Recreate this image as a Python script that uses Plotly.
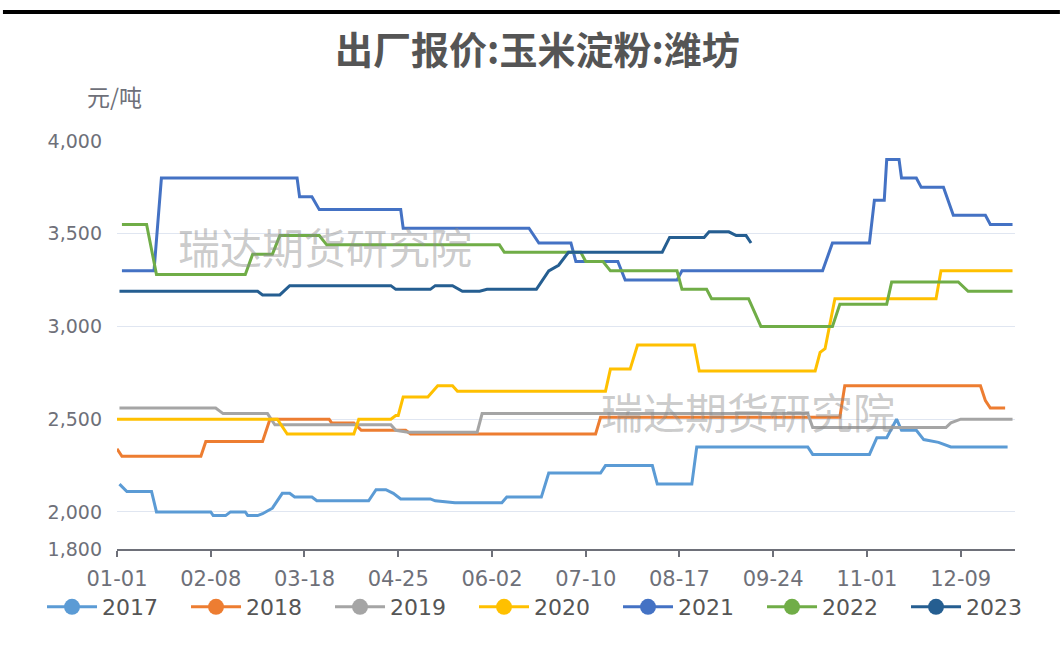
import plotly.graph_objects as go
import pandas as pd

# ---- axis categories (non-leap calendar, MM-DD) ----
all_days = pd.date_range("2017-01-01", "2017-12-31").strftime("%m-%d").tolist()
tick_labels = ["01-01", "02-08", "03-18", "04-25", "06-02", "07-10",
               "08-17", "09-24", "11-01", "12-09"]
y_ticks = [1800, 2000, 2500, 3000, 3500, 4000]

years = ["2017", "2018", "2019", "2020", "2021", "2022", "2023"]
colors = ["#5B9BD5", "#ED7D31", "#A5A5A5", "#FFC000", "#4472C4", "#70AD47", "#255E91"]

# ---- series data (date, price 元/吨) ----
d2017 = ["01-02", "01-05", "01-15", "01-17", "02-08", "02-09", "02-14", "02-16", "02-22", "02-23",
         "02-27", "03-01", "03-05", "03-09", "03-12", "03-14", "03-21", "03-23", "04-13", "04-16",
         "04-20", "04-23", "04-26", "05-08", "05-10", "05-18", "06-06", "06-08", "06-22", "06-25",
         "07-16", "07-18", "08-06", "08-08", "08-22", "08-24", "10-08", "10-10", "11-02", "11-05",
         "11-09", "11-13", "11-15", "11-21", "11-24", "11-30", "12-05", "12-28"]
v2017 = [2150, 2110, 2110, 2000, 2000, 1980, 1980, 2000, 2000, 1980,
         1980, 1990, 2020, 2100, 2100, 2080, 2080, 2060, 2060, 2120,
         2120, 2100, 2070, 2070, 2060, 2050, 2050, 2080, 2080, 2210,
         2210, 2250, 2250, 2150, 2150, 2350, 2350, 2310, 2310, 2400,
         2400, 2500, 2440, 2440, 2390, 2375, 2350, 2350]

d2018 = ["01-01", "01-03", "02-04", "02-06", "03-01", "03-04", "03-28", "03-29", "04-07", "04-10",
         "04-28", "04-30", "07-14", "07-16", "10-21", "10-23", "12-17", "12-19", "12-21", "12-27"]
v2018 = [2340, 2300, 2300, 2380, 2380, 2500, 2500, 2480, 2480, 2440,
         2440, 2420, 2420, 2510, 2510, 2680, 2680, 2600, 2560, 2560]

d2019 = ["01-02", "02-10", "02-13", "03-03", "03-06", "04-22", "04-24", "04-29", "05-27", "05-29",
         "10-08", "10-10", "12-03", "12-05", "12-09", "12-30"]
v2019 = [2560, 2560, 2530, 2530, 2470, 2470, 2440, 2430, 2430, 2530,
         2530, 2455, 2455, 2480, 2500, 2500]

d2020 = ["01-01", "03-07", "03-11", "04-07", "04-09", "04-22", "04-24", "04-25", "04-27", "05-07",
         "05-11", "05-17", "05-19", "07-18", "07-20", "07-28", "07-31", "08-23", "08-25", "10-11",
         "10-13", "10-15", "10-19", "11-29", "12-01", "12-30"]
v2020 = [2500, 2500, 2420, 2420, 2500, 2500, 2520, 2520, 2620, 2620,
         2680, 2680, 2650, 2650, 2770, 2770, 2900, 2900, 2760, 2760,
         2860, 2880, 3150, 3150, 3300, 3300]

d2021 = ["01-03", "01-16", "01-19", "03-15", "03-16", "03-21", "03-24", "04-26", "04-27", "06-17",
         "06-21", "07-04", "07-06", "07-23", "07-26", "08-16", "08-18", "10-14", "10-18", "11-02",
         "11-04", "11-08", "11-09", "11-14", "11-15", "11-21", "11-23", "12-02", "12-06", "12-19",
         "12-21", "12-30"]
v2021 = [3300, 3300, 3800, 3800, 3700, 3700, 3630, 3630, 3530, 3530,
         3450, 3450, 3350, 3350, 3250, 3250, 3300, 3300, 3450, 3450,
         3680, 3680, 3900, 3900, 3800, 3800, 3750, 3750, 3600, 3600,
         3550, 3550]

d2022 = ["01-03", "01-13", "01-17", "02-22", "02-25", "03-05", "03-08", "03-24", "03-27", "06-05",
         "06-07", "07-08", "07-10", "07-17", "07-20", "08-16", "08-18", "08-28", "08-30", "09-14",
         "09-19", "10-18", "10-21", "11-09", "11-11", "12-08", "12-12", "12-30"]
v2022 = [3550, 3550, 3280, 3280, 3390, 3390, 3490, 3490, 3440, 3440,
         3400, 3400, 3350, 3350, 3300, 3300, 3200, 3200, 3150, 3150,
         3000, 3000, 3120, 3120, 3240, 3240, 3190, 3190]

d2023 = ["01-02", "02-27", "03-01", "03-08", "03-12", "04-22", "04-24", "05-08", "05-10", "05-17",
         "05-21", "05-28", "05-31", "06-20", "06-25", "06-29", "07-03", "08-10", "08-13", "08-27",
         "08-29", "09-06", "09-09", "09-13", "09-15"]
v2023 = [3190, 3190, 3170, 3170, 3220, 3220, 3200, 3200, 3220, 3220,
         3190, 3190, 3200, 3200, 3300, 3330, 3400, 3400, 3480, 3480,
         3510, 3510, 3490, 3490, 3450]

dates = [d2017, d2018, d2019, d2020, d2021, d2022, d2023]
values = [v2017, v2018, v2019, v2020, v2021, v2022, v2023]

title_text = "出厂报价:玉米淀粉:潍坊"
unit_text = "元/吨"
watermark = "瑞达期货研究院"

TXT = "#6E7079"
NUMFONT = "DejaVu Sans"
fig = go.Figure()

for yr, c, dx, vy in zip(years, colors, dates, values):
    fig.add_trace(go.Scatter(x=dx, y=vy, mode="lines", name=yr,
                             line=dict(color=c, width=3), showlegend=False,
                             hovertemplate="%{x}: %{y}<extra>" + yr + "</extra>"))
# legend entries (line + circle icon)
for yr, c in zip(years, colors):
    fig.add_trace(go.Scatter(x=[None], y=[None], mode="lines+markers", name=yr,
                             line=dict(color=c, width=3),
                             marker=dict(color=c, size=16), showlegend=True))

fig.update_layout(
    width=1060, height=645,
    margin=dict(l=117, r=45, t=141, b=96, autoexpand=False),
    paper_bgcolor="white", plot_bgcolor="white",
    title=dict(text="<b>" + title_text + "</b>", x=0.507, xref="container", xanchor="center",
               y=0.922, yref="container", yanchor="middle",
               font=dict(family="Noto Sans CJK SC", size=38, color="#555555")),
    xaxis=dict(type="category", categoryorder="array", categoryarray=all_days,
               range=[0, len(all_days) - 1], tickmode="array", tickvals=tick_labels,
               ticktext=tick_labels, showgrid=False, showline=True, linecolor=TXT,
               linewidth=2, ticks="outside", ticklen=6, tickwidth=2, tickcolor=TXT,
               ticklabelstandoff=4,
               tickfont=dict(family=NUMFONT, size=21, color=TXT), zeroline=False),
    yaxis=dict(range=[1800, 4000], tickmode="array", tickvals=y_ticks, tickformat=",",
               showgrid=True, gridcolor="#E0E6F1", gridwidth=1, showline=False,
               zeroline=False, ticks="", ticklabelstandoff=14,
               tickfont=dict(family=NUMFONT, size=19, color=TXT)),
    legend=dict(orientation="h", x=-0.0835, xanchor="left", y=-0.0907, yanchor="top",
                font=dict(family=NUMFONT, size=22, color="#555555"),
                entrywidth=79, entrywidthmode="pixels", itemwidth=50,
                bgcolor="rgba(0,0,0,0)"),
    showlegend=True,
)

fig.add_annotation(text=unit_text, xref="paper", yref="paper", x=-0.003, y=1.11,
                   showarrow=False, xanchor="center", yanchor="middle",
                   font=dict(family="Noto Sans CJK SC", size=23, color=TXT))

for wx, wy in [(0.232, 0.743), (0.703, 0.34)]:
    fig.add_annotation(text=watermark, xref="paper", yref="paper", x=wx, y=wy,
                       showarrow=False, xanchor="center", yanchor="middle",
                       font=dict(family="Noto Sans CJK SC", size=42,
                                 color="rgba(140,140,140,0.45)"))

# top black rule
fig.add_shape(type="line", xref="paper", yref="paper", x0=-0.127, x1=1.05,
              y0=1.316, y1=1.316, line=dict(color="black", width=4))

fig.write_html("out.html", config={"displayModeBar": False},
               post_script="document.body.style.margin='0px';")
